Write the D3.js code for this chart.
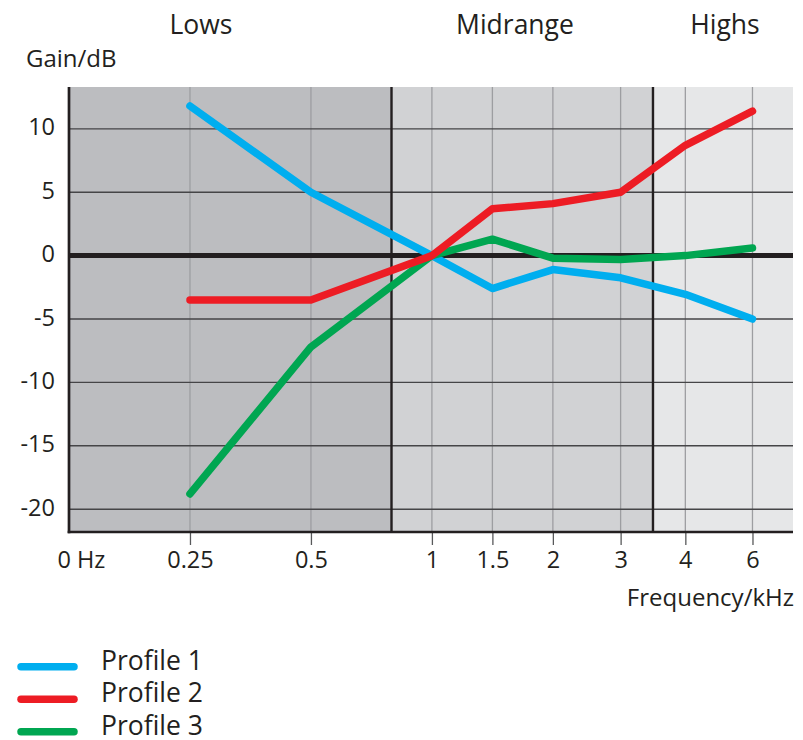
<!DOCTYPE html>
<html><head><meta charset="utf-8">
<script src="https://cdn.jsdelivr.net/npm/d3@7"></script>
<style>
body{margin:0;background:#fff}
svg{display:block}
text{font-family:"Open Sans",sans-serif;fill:#231f20}
</style>
</head><body><svg id="c" width="803" height="740"></svg>
<script>
// ---- data ----
const frequencies = [0.25, 0.5, 1, 1.5, 2, 3, 4, 6];           // kHz
const tickValues  = [0, 0.25, 0.5, 1, 1.5, 2, 3, 4, 6];
const tickLabels  = ["0 Hz", "0.25", "0.5", "1", "1.5", "2", "3", "4", "6"];
const profile1 = [11.8, 5.0, 0, -2.6, -1.1, -1.75, -3.05, -5.0];
const profile2 = [-3.5, -3.5, 0, 3.7, 4.1, 5.0, 8.7, 11.4];
const profile3 = [-18.8, -7.2, 0, 1.3, -0.2, -0.3, 0, 0.6];
const seriesNames  = ["Profile 1", "Profile 2", "Profile 3"];
const seriesColors = ["#00aeef", "#ed1c24", "#00a651"];
const yTicks = [10, 5, 0, -5, -10, -15, -20];
const yTickLabels = ["10", "5", "0", "-5", "-10", "-15", "-20"];
const bandNames  = ["Lows", "Midrange", "Highs"];
const bandStarts = [0, 0.833, 3.5];   // kHz where each band begins
const bandColors = ["#bcbdc0", "#d1d2d4", "#e6e7e8"];

// ---- layout ----
const L = 69, R = 793, T = 87, B = 532;
const slotUnit = (R - L) / 11.97;
const tickSlots = [0, 2, 4, 6, 7, 8, 9.12, 10.19, 11.3];   // axis slot positions of tickValues
const headerX = [201, 515, 725];

const svg = d3.select("#c");
const x = d3.scaleLinear().domain(tickValues).range(tickSlots.map(s => L + s * slotUnit));
const y = d3.scaleLinear().domain([-21.8, 13.3]).range([B, T]);

// bands
const bandEnds = bandStarts.slice(1).map(v => x(v)).concat([R]);
svg.selectAll("rect.band").data(bandNames).join("rect")
  .attr("x", (d, i) => x(bandStarts[i]))
  .attr("y", T)
  .attr("width", (d, i) => bandEnds[i] - x(bandStarts[i]))
  .attr("height", B - T)
  .attr("fill", (d, i) => bandColors[i]);

// vertical grid
svg.selectAll("line.vg").data(frequencies).join("line")
  .attr("x1", d => x(d)).attr("x2", d => x(d))
  .attr("y1", T).attr("y2", B)
  .attr("stroke", "#9d9ea1").attr("stroke-width", 1.3);

// horizontal grid
svg.selectAll("line.hg").data(yTicks.filter(v => v !== 0)).join("line")
  .attr("x1", L).attr("x2", R)
  .attr("y1", d => y(d)).attr("y2", d => y(d))
  .attr("stroke", "#454547").attr("stroke-width", 1.4);

// band dividers
svg.selectAll("line.div").data(bandStarts.slice(1)).join("line")
  .attr("x1", d => x(d)).attr("x2", d => x(d))
  .attr("y1", T).attr("y2", B)
  .attr("stroke", "#231f20").attr("stroke-width", 2.4);

// zero line
svg.append("line")
  .attr("x1", L).attr("x2", R).attr("y1", y(0)).attr("y2", y(0))
  .attr("stroke", "#231f20").attr("stroke-width", 5);

// x axis
const xAxis = d3.axisBottom(x).tickValues(tickValues)
  .tickSize(13).tickFormat((d, i) => tickLabels[i]);
const gx = svg.append("g").attr("transform", `translate(0,${B})`).call(xAxis);
gx.select(".domain").remove();
gx.selectAll(".tick line").attr("stroke", "#58595b").attr("stroke-width", 1.3)
  .filter(d => d === 0).remove();
gx.selectAll(".tick text")
  .attr("y", 36).attr("dy", 0)
  .attr("font-size", 23.5).attr("font-family", "'Open Sans',sans-serif").attr("fill", "#231f20")
  .filter(d => d === 0).attr("text-anchor", "start").attr("x", -12);
svg.append("line").attr("x1", L - 1.3).attr("x2", R).attr("y1", B).attr("y2", B)
  .attr("stroke", "#231f20").attr("stroke-width", 2.7);

// y axis
const yAxis = d3.axisLeft(y).tickValues(yTicks).tickSize(0)
  .tickFormat((d, i) => yTickLabels[i]);
const gy = svg.append("g").attr("transform", `translate(${L},0)`).call(yAxis);
gy.select(".domain").remove();
gy.selectAll(".tick text")
  .attr("x", -14).attr("dy", 6)
  .attr("font-size", 23.5).attr("font-family", "'Open Sans',sans-serif").attr("fill", "#231f20");
svg.append("line").attr("x1", L).attr("x2", L).attr("y1", T).attr("y2", B + 1.3)
  .attr("stroke", "#231f20").attr("stroke-width", 2.7);

// series lines
const series = [profile1, profile2, profile3];
const drawOrder = [0, 2, 1];
const line = d3.line().x((d, i) => x(frequencies[i])).y(d => y(d));
drawOrder.forEach(k => {
  svg.append("path").datum(series[k])
    .attr("d", line)
    .attr("fill", "none").attr("stroke", seriesColors[k])
    .attr("stroke-width", 7.5).attr("stroke-linecap", "round").attr("stroke-linejoin", "round");
});

// headers
svg.selectAll("text.hdr").data(bandNames).join("text")
  .attr("x", (d, i) => headerX[i]).attr("y", 34)
  .attr("text-anchor", "middle").attr("font-size", 26.5).text(d => d);

// axis titles
svg.append("text").attr("x", 26).attr("y", 67).attr("font-size", 24).text("Gain/dB");
svg.append("text").attr("x", 794).attr("y", 606).attr("text-anchor", "end").attr("font-size", 24).text("Frequency/kHz");

// legend
const lg = svg.selectAll("g.lg").data(seriesNames).join("g")
  .attr("transform", (d, i) => `translate(0,${666.7 + i * 32.5})`);
lg.append("line").attr("x1", 21).attr("x2", 74).attr("y1", 0).attr("y2", 0)
  .attr("stroke", (d, i) => seriesColors[i]).attr("stroke-width", 7.5).attr("stroke-linecap", "round");
lg.append("text").attr("x", 101).attr("y", 3).attr("font-size", 26.5).text(d => d);
</script>
</body></html>
